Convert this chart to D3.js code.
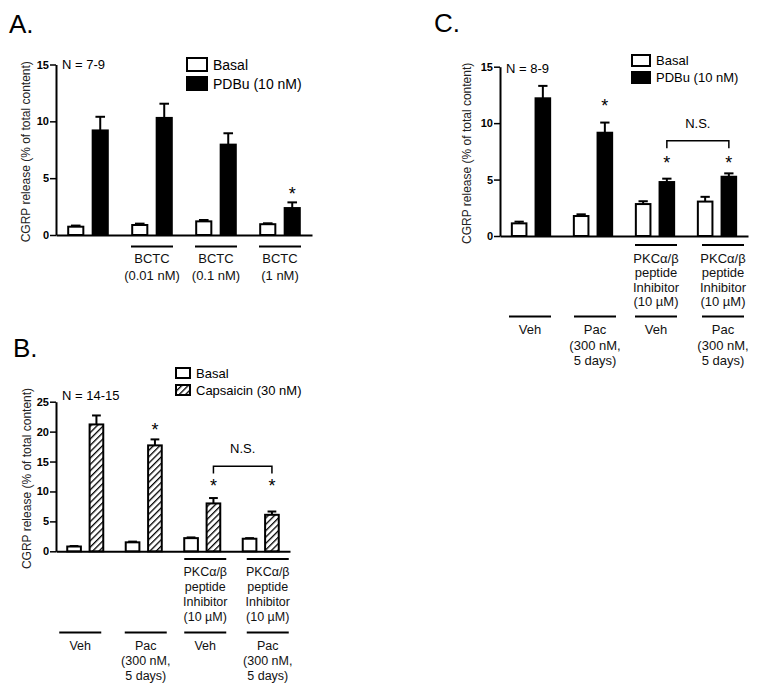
<!DOCTYPE html>
<html>
<head>
<meta charset="utf-8">
<script src="https://cdn.jsdelivr.net/npm/d3@7"></script>
<style>
  html, body { margin: 0; padding: 0; background: #fff; }
  svg { display: block; font-family: "Liberation Sans", Arial, sans-serif; }
</style>
</head>
<body>
<svg id="chart" width="762" height="691"></svg>
<script>
// ---------------- DATA ----------------
const groupKeys = ["g1", "g2", "g3", "g4"];

// Panel A
const aBasal = [0.73, 0.88, 1.2, 0.95];
const aBasalErr = [0.1, 0.12, 0.12, 0.08];
const aPDBu = [9.2, 10.3, 7.95, 2.37];
const aPDBuErr = [1.2, 1.25, 1.0, 0.5];
const aStars = [null, null, null, 4.0];
const aTicks = [0, 5, 10, 15];
const aLowerLabels = [[], ["BCTC", "(0.01 nM)"], ["BCTC", "(0.1 nM)"], ["BCTC", "(1 nM)"]];
const aLegend = ["Basal", "PDBu (10 nM)"];
const aN = "N = 7-9";

// Panel B
const bBasal = [0.8, 1.5, 2.2, 2.1];
const bBasalErr = [0.08, 0.12, 0.12, 0.1];
const bCaps = [21.2, 17.7, 8.0, 6.1];
const bCapsErr = [1.5, 1.0, 0.9, 0.55];
const bStars = [null, 20.9, 11.6, 11.6];
const bTicks = [0, 5, 10, 15, 20, 25];
const bUpperLabels = [[], [], ["PKCα/β", "peptide", "Inhibitor", "(10 µM)"], ["PKCα/β", "peptide", "Inhibitor", "(10 µM)"]];
const bLowerLabels = [["Veh"], ["Pac", "(300 nM,", "5 days)"], ["Veh"], ["Pac", "(300 nM,", "5 days)"]];
const bLegend = ["Basal", "Capsaicin (30 nM)"];
const bN = "N = 14-15";
const bNS = { from: 2, to: 3, level: 14.2, tick: 13.0, label: "N.S." };

// Panel C
const cBasal = [1.12, 1.77, 2.83, 3.05];
const cBasalErr = [0.15, 0.15, 0.25, 0.42];
const cPDBu = [12.2, 9.15, 4.78, 5.25];
const cPDBuErr = [1.1, 0.9, 0.3, 0.3];
const cStars = [null, 11.9, 6.8, 6.8];
const cTicks = [0, 5, 10, 15];
const cUpperLabels = [[], [], ["PKCα/β", "peptide", "Inhibitor", "(10 µM)"], ["PKCα/β", "peptide", "Inhibitor", "(10 µM)"]];
const cLowerLabels = [["Veh"], ["Pac", "(300 nM,", "5 days)"], ["Veh"], ["Pac", "(300 nM,", "5 days)"]];
const cLegend = ["Basal", "PDBu (10 nM)"];
const cN = "N = 8-9";
const cNS = { from: 2, to: 3, level: 8.44, tick: 7.77, label: "N.S." };

const yTitle = "CGRP release (% of total content)";

// ---------------- DRAWING ----------------
const svg = d3.select("#chart");
const defs = svg.append("defs");
const pat = defs.append("pattern")
  .attr("id", "hatch").attr("patternUnits", "userSpaceOnUse")
  .attr("width", 4.5).attr("height", 4.5)
  .attr("patternTransform", "rotate(45)");
pat.append("rect").attr("width", 4.5).attr("height", 4.5).attr("fill", "#fff");
pat.append("line").attr("x1", 0).attr("y1", 0).attr("x2", 0).attr("y2", 4.5)
  .attr("stroke", "#000").attr("stroke-width", 2.6);

function drawPanel(p) {
  const g = svg.append("g");
  const y = d3.scaleLinear().domain([0, p.yMax]).range([p.y0, p.yTop]);
  const x = d3.scaleBand().domain(groupKeys).range([p.xAxis, p.xEnd])
    .paddingInner(0.35).paddingOuter(0.175);
  const xi = d3.scaleBand().domain(["basal", "stim"]).range([0, x.bandwidth()]).paddingInner(0.3);
  const bw = xi.bandwidth();

  // panel letter
  g.append("text").attr("x", p.letterX).attr("y", p.letterY)
    .attr("font-size", 26).text(p.letter);

  // y axis
  const ya = g.append("g").attr("transform", `translate(${p.xAxis},0)`)
    .call(d3.axisLeft(y).tickValues(p.ticks).tickSize(6).tickSizeOuter(0).tickPadding(1).tickFormat(d3.format("d")));
  ya.select(".domain").attr("stroke-width", 2);
  ya.selectAll(".tick line").attr("stroke-width", 1.5);
  ya.selectAll(".tick text").attr("font-size", 11).attr("font-weight", "bold")
    .attr("font-family", "Liberation Sans, Arial, sans-serif").attr("fill", "#000");

  // x axis
  const xa = g.append("g").attr("transform", `translate(0,${p.y0})`)
    .call(d3.axisBottom(x).tickSize(0).tickSizeOuter(0).tickFormat(""));
  xa.select(".domain").attr("stroke-width", 2);

  // y title
  g.append("text")
    .attr("transform", `translate(${p.titleX},${(p.y0 + p.yTop) / 2 + 2}) rotate(-90)`)
    .attr("text-anchor", "middle").attr("font-size", 12).attr("fill", "#222")
    .text(yTitle);

  // bars
  const series = [
    { key: "basal", vals: p.basal, errs: p.basalErr, fill: "#fff" },
    { key: "stim", vals: p.stim, errs: p.stimErr, fill: p.stimFill }
  ];
  series.forEach(s => {
    groupKeys.forEach((k, i) => {
      const bx = x(k) + xi(s.key);
      const cx = bx + bw / 2;
      const top = y(s.vals[i]);
      const errTop = y(s.vals[i] + s.errs[i]);
      g.append("line").attr("x1", cx).attr("x2", cx).attr("y1", top).attr("y2", errTop)
        .attr("stroke", "#000").attr("stroke-width", 2);
      g.append("line").attr("x1", cx - bw * 0.28).attr("x2", cx + bw * 0.28)
        .attr("y1", errTop).attr("y2", errTop).attr("stroke", "#000").attr("stroke-width", 2);
      g.append("rect").attr("x", bx + 1).attr("y", top)
        .attr("width", bw - 2).attr("height", y(0) - top)
        .attr("fill", s.fill).attr("stroke", "#000").attr("stroke-width", 2);
    });
  });

  // stars
  groupKeys.forEach((k, i) => {
    if (p.stars[i] == null) return;
    const cx = x(k) + xi("stim") + bw / 2;
    g.append("text").attr("x", cx).attr("y", y(p.stars[i]) + 10)
      .attr("text-anchor", "middle").attr("font-size", 18).text("*");
  });

  // N.S. bracket
  if (p.ns) {
    const x1 = x(groupKeys[p.ns.from]) + xi("stim") + bw / 2;
    const x2 = x(groupKeys[p.ns.to]) + xi("stim") + bw / 2;
    const yl = y(p.ns.level), yt = y(p.ns.tick);
    g.append("path").attr("d", `M${x1},${yt}V${yl}H${x2}V${yt}`)
      .attr("fill", "none").attr("stroke", "#000").attr("stroke-width", 1.5);
    g.append("text").attr("x", (x1 + x2) / 2).attr("y", yl - 13)
      .attr("text-anchor", "middle").attr("font-size", 13).text(p.ns.label);
  }

  // N text
  g.append("text").attr("x", p.xAxis + 6).attr("y", p.nY).attr("font-size", 13).text(p.nText);

  // legend
  const lg = g.append("g");
  p.legend.forEach((t, j) => {
    const ly = p.legY + j * p.legStep;
    lg.append("rect").attr("x", p.legX).attr("y", ly).attr("width", p.legW).attr("height", p.legH)
      .attr("fill", j === 0 ? "#fff" : p.stimFill).attr("stroke", "#000").attr("stroke-width", 2);
    lg.append("text").attr("x", p.legX + p.legW + 6).attr("y", ly + p.legH / 2 + p.legFont * 0.36)
      .attr("font-size", p.legFont).text(t);
  });

  // category labels
  function labelBlock(labels, lineY, lineGap, textGap, fontSize) {
    groupKeys.forEach((k, i) => {
      const lines = labels[i];
      if (!lines || !lines.length) return;
      const cx = x(k) + x.bandwidth() / 2 + (p.labelShift ? p.labelShift[i] : 0);
      const half = 21;
      g.append("line").attr("x1", cx - half).attr("x2", cx + half)
        .attr("y1", lineY).attr("y2", lineY).attr("stroke", "#000").attr("stroke-width", 2);
      lines.forEach((t, j) => {
        g.append("text").attr("x", cx).attr("y", lineY + textGap + j * lineGap)
          .attr("text-anchor", "middle").attr("font-size", fontSize).attr("fill", "#111").text(t);
      });
    });
  }
  if (p.upper) labelBlock(p.upper, p.upperY, p.lineGap, p.textGap, p.labelFont);
  if (p.lower) labelBlock(p.lower, p.lowerY, p.lowerLineGap || p.lineGap, p.textGap, p.labelFont);
}

drawPanel({
  letter: "A.", letterX: 9, letterY: 33,
  xAxis: 56, xEnd: 312, y0: 235, yTop: 64.5, yMax: 15, ticks: aTicks, titleX: 29.5,
  basal: aBasal, basalErr: aBasalErr, stim: aPDBu, stimErr: aPDBuErr, stimFill: "#000",
  stars: aStars, ns: null, nText: aN, nY: 69,
  legend: aLegend, legX: 187, legY: 58, legW: 20, legH: 13, legStep: 19, legFont: 14,
  lower: aLowerLabels, lowerY: 246.5, lineGap: 17, textGap: 16, labelFont: 13
});

drawPanel({
  letter: "B.", letterX: 13, letterY: 357,
  xAxis: 56, xEnd: 290, y0: 551.3, yTop: 401.7, yMax: 25, ticks: bTicks, titleX: 30.5,
  basal: bBasal, basalErr: bBasalErr, stim: bCaps, stimErr: bCapsErr, stimFill: "url(#hatch)",
  stars: bStars, ns: bNS, nText: bN, nY: 400,
  legend: bLegend, legX: 176, legY: 368, legW: 14, legH: 10, legStep: 17, legFont: 13,
  upper: bUpperLabels, upperY: 559, lower: bLowerLabels, lowerY: 632.5,
  labelShift: [-5, 2, 3, 7],
  lineGap: 15, textGap: 17, labelFont: 12.5
});

drawPanel({
  letter: "C.", letterX: 434, letterY: 32,
  xAxis: 500, xEnd: 748, y0: 236, yTop: 66.7, yMax: 15, ticks: cTicks, titleX: 471,
  basal: cBasal, basalErr: cBasalErr, stim: cPDBu, stimErr: cPDBuErr, stimFill: "#000",
  stars: cStars, ns: cNS, nText: cN, nY: 73,
  legend: cLegend, legX: 632, legY: 55, legW: 18, legH: 11, legStep: 17, legFont: 13,
  upper: cUpperLabels, upperY: 245, lower: cLowerLabels, lowerY: 316.5,
  labelShift: [-1, 2, 1, 6],
  lineGap: 14.5, lowerLineGap: 15.5, textGap: 17.5, labelFont: 13
});
</script>
</body>
</html>
